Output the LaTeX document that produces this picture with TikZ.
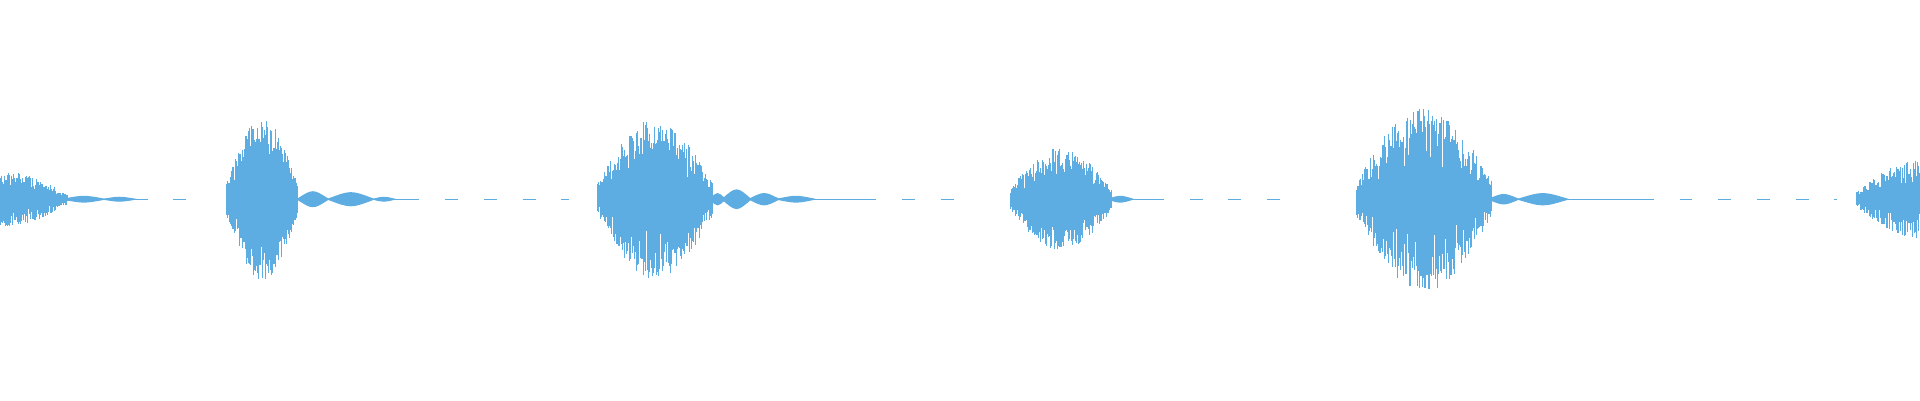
\documentclass[tikz,border=0pt]{standalone}
\usepackage{tikz}
\definecolor{wavecol}{RGB}{93,173,226}
\tikzset{
  wave/.style={draw=wavecol, line width=0.25pt},
  lens/.style={fill=wavecol, draw=wavecol, line width=0.3pt},
  dashline/.style={draw=wavecol, line width=0.25pt, dash pattern=on 3pt off 6pt}
}
% burst between #1 and #2 with peak amplitude #3
\newcommand\wburst[3]{%
  \pgfmathsetmacro\wlen{(#2)-(#1)}
  \foreach \k in {0,...,220}{
    \pgfmathsetmacro\tt{\k/220}
    \pgfmathsetmacro\xx{(#1)+\wlen*\tt}
    \pgfmathsetmacro\env{#3*(0.2+0.8*sin(180*\tt))}
    \pgfmathsetmacro\hu{164+\env*(0.35+0.65*rnd)}
    \pgfmathsetmacro\hd{164-\env*(0.35+0.65*rnd)}
    \draw[wave] (\xx,\hu) -- (\xx,\hd);
  }}
% lens between #1 and #2 with height #3
\newcommand\wlens[3]{%
  \pgfmathsetmacro\xm{(#1+#2)/2}
  \fill[lens] (#1,164) .. controls (\xm,164+#3) .. (#2,164)
    .. controls (\xm,164-#3) .. (#1,164);}
\begin{document}
\begin{tikzpicture}[x=0.1mm, y=0.1mm]
  \useasboundingbox (0,0) rectangle (1568,326.7);
  \clip (0,0) rectangle (1568,326.7);
  \pgfmathsetseed{7}
  % burst 1
  \wburst{-40}{55}{22}
  \wlens{52}{85}{3} \wlens{85}{110}{2}
  \draw[dashline] (110,164) -- (155,164);
  % burst 2
  \wburst{185}{243}{66}
  \wlens{243}{268}{8} \wlens{268}{305}{7} \wlens{305}{322}{2}
  \draw[wave] (322,164) -- (332,164);
  \draw[dashline] (332,164) -- (465,164);
  % burst 3
  \wburst{488}{582}{66}
  \wlens{580}{592}{6} \wlens{590}{613}{10} \wlens{612}{636}{6} \wlens{635}{665}{3}
  \draw[wave] (665,164) -- (705,164);
  \draw[dashline] (705,164) -- (790,164);
  % burst 4
  \wburst{825}{908}{42}
  \wlens{905}{925}{3}
  \draw[wave] (925,164) -- (940,164);
  \draw[dashline] (940,164) -- (1065,164);
  % burst 5
  \wburst{1108}{1218}{76}
  \wlens{1216}{1240}{5} \wlens{1240}{1280}{6}
  \draw[wave] (1280,164) -- (1340,164);
  \draw[dashline] (1340,164) -- (1500,164);
  % burst 6
  \wburst{1516}{1620}{32}
\end{tikzpicture}
\end{document}
